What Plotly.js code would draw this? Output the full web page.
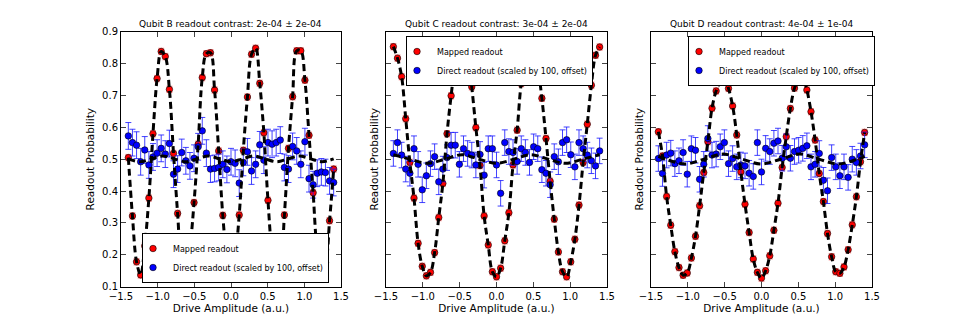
<!DOCTYPE html>
<html>
<head>
<meta charset="utf-8">
<script src="https://cdn.plot.ly/plotly-3.0.1.min.js"></script>
<style>
body { margin: 0; background: #fff; }
#plot { width: 969px; height: 320px; }
</style>
</head>
<body>
<div id="plot"></div>
<script>
// drive amplitudes, shared by the three qubits
let amps = [-1.4, -1.344, -1.288, -1.232, -1.176, -1.12, -1.064, -1.008, -0.952, -0.896,
    -0.84, -0.784, -0.728, -0.672, -0.616, -0.56, -0.504, -0.448, -0.392, -0.336,
    -0.28, -0.224, -0.168, -0.112, -0.056, 0, 0.056, 0.112, 0.168, 0.224,
    0.28, 0.336, 0.392, 0.448, 0.504, 0.56, 0.616, 0.672, 0.728, 0.784,
    0.84, 0.896, 0.952, 1.008, 1.064, 1.12, 1.176, 1.232, 1.288, 1.344, 1.4];

let titles = [
    'Qubit B readout contrast: 2e-04 ± 2e-04',
    'Qubit C readout contrast: 3e-04 ± 2e-04',
    'Qubit D readout contrast: 4e-04 ± 1e-04'
];

// Qubit B
let mappedB = [0.505, 0.322, 0.178, 0.137, 0.228, 0.378, 0.580, 0.753, 0.838, 0.822,
    0.719, 0.518, 0.330, 0.170, 0.138, 0.220, 0.364, 0.547, 0.756, 0.831,
    0.834, 0.717, 0.526, 0.324, 0.190, 0.132, 0.192, 0.325, 0.528, 0.695,
    0.829, 0.848, 0.738, 0.583, 0.371, 0.206, 0.135, 0.160, 0.325, 0.534,
    0.696, 0.840, 0.840, 0.748, 0.575, 0.395, 0.215, 0.158, 0.176, 0.307, 0.469];
let directB = [0.573, 0.552, 0.544, 0.492, 0.529, 0.482, 0.507, 0.519, 0.534, 0.516,
    0.549, 0.453, 0.469, 0.521, 0.495, 0.479, 0.503, 0.539, 0.589, 0.519,
    0.469, 0.471, 0.474, 0.484, 0.468, 0.492, 0.487, 0.425, 0.490, 0.523,
    0.463, 0.484, 0.545, 0.497, 0.552, 0.547, 0.552, 0.560, 0.474, 0.469,
    0.540, 0.526, 0.484, 0.555, 0.439, 0.420, 0.456, 0.460, 0.458, 0.432, 0.427];
let fitAmpB = [-1.4, -1.24, -1.085, -0.93, -0.775, -0.62, -0.465, -0.31, -0.155, 0,
    0.155, 0.31, 0.465, 0.62, 0.775, 0.93, 1.085, 1.24, 1.4];
let fitDirectB = [0.501, 0.492, 0.501, 0.51, 0.501, 0.492, 0.501, 0.51, 0.501, 0.492,
    0.501, 0.51, 0.501, 0.492, 0.501, 0.51, 0.501, 0.492, 0.501];

// Qubit C
let mappedC = [0.853, 0.817, 0.759, 0.627, 0.490, 0.378, 0.236, 0.164, 0.134, 0.145,
    0.207, 0.317, 0.424, 0.580, 0.699, 0.800, 0.850, 0.868, 0.835, 0.727,
    0.599, 0.480, 0.322, 0.231, 0.147, 0.131, 0.158, 0.244, 0.332, 0.482,
    0.591, 0.737, 0.800, 0.855, 0.860, 0.793, 0.691, 0.565, 0.431, 0.312,
    0.209, 0.147, 0.131, 0.178, 0.249, 0.356, 0.490, 0.610, 0.732, 0.826, 0.852];
let directC = [0.518, 0.552, 0.513, 0.469, 0.456, 0.533, 0.484, 0.404, 0.448, 0.486,
    0.508, 0.429, 0.469, 0.505, 0.544, 0.544, 0.484, 0.533, 0.518, 0.513,
    0.482, 0.515, 0.450, 0.533, 0.533, 0.482, 0.393, 0.552, 0.524, 0.521,
    0.493, 0.533, 0.521, 0.490, 0.539, 0.533, 0.467, 0.456, 0.420, 0.508,
    0.492, 0.552, 0.561, 0.514, 0.476, 0.552, 0.533, 0.513, 0.495, 0.479, 0.526];
let fitAmpC = [-1.4, -1.168, -0.935, -0.701, -0.467, -0.234, 0, 0.234, 0.467, 0.701, 0.935, 1.168, 1.4];
let fitDirectC = [0.514, 0.500, 0.487, 0.500, 0.514, 0.500, 0.487, 0.500, 0.514, 0.500, 0.487, 0.500, 0.514];

// Qubit D
let mappedD = [0.586, 0.510, 0.383, 0.293, 0.210, 0.160, 0.136, 0.143, 0.190, 0.258,
    0.354, 0.458, 0.555, 0.660, 0.714, 0.742, 0.758, 0.722, 0.667, 0.576,
    0.460, 0.359, 0.270, 0.187, 0.145, 0.127, 0.150, 0.197, 0.277, 0.362,
    0.474, 0.571, 0.659, 0.723, 0.751, 0.756, 0.717, 0.649, 0.560, 0.455,
    0.367, 0.267, 0.194, 0.147, 0.142, 0.162, 0.216, 0.294, 0.382, 0.492, 0.584];
let directD = [0.502, 0.455, 0.513, 0.519, 0.486, 0.495, 0.521, 0.453, 0.533, 0.528,
    0.437, 0.484, 0.565, 0.513, 0.516, 0.539, 0.552, 0.486, 0.502, 0.476,
    0.482, 0.479, 0.456, 0.446, 0.552, 0.460, 0.534, 0.524, 0.550, 0.557,
    0.503, 0.539, 0.503, 0.524, 0.528, 0.534, 0.542, 0.476, 0.484, 0.518,
    0.434, 0.401, 0.505, 0.476, 0.448, 0.476, 0.443, 0.500, 0.490, 0.510, 0.545];
let fitAmpD = [-1.4, -1.3, -1.04, -0.78, -0.52, -0.26, 0, 0.26, 0.52, 0.78, 1.04, 1.3, 1.4];
let fitDirectD = [0.509, 0.500, 0.485, 0.500, 0.516, 0.500, 0.485, 0.500, 0.516, 0.500, 0.485, 0.500, 0.509];

// error bar half-widths
let mappedErr = 0.01;
let directErr = [0.042, 0.04, 0.04];

let fitLine = {color: 'black', width: 3, dash: '7px,4px'};

function panelTraces(i, mapped, direct, fitAmp, fitDirect) {
    let xa = i === 0 ? 'x' : 'x' + (i + 1);
    let ya = i === 0 ? 'y' : 'y' + (i + 1);
    let lg = i === 0 ? 'legend' : 'legend' + (i + 1);
    return [
        {
            x: amps, y: mapped, xaxis: xa, yaxis: ya, legend: lg,
            name: 'Mapped readout', type: 'scatter', mode: 'markers',
            marker: {color: '#ff0000', size: 6.5, line: {color: 'black', width: 0.6}},
            error_y: {type: 'constant', value: mappedErr, color: 'rgba(255,0,0,0.45)', thickness: 1, width: 3}
        },
        {
            x: amps, y: direct, xaxis: xa, yaxis: ya, legend: lg,
            name: 'Direct readout (scaled by 100, offset)', type: 'scatter', mode: 'markers',
            marker: {color: '#0000ff', size: 6.5, line: {color: 'black', width: 0.6}},
            error_y: {type: 'constant', value: directErr[i], color: 'rgba(20,20,255,0.8)', thickness: 1, width: 3}
        },
        {
            x: amps, y: mapped, xaxis: xa, yaxis: ya, showlegend: false,
            type: 'scatter', mode: 'lines', line: Object.assign({shape: 'spline', smoothing: 1}, fitLine)
        },
        {
            x: fitAmp, y: fitDirect, xaxis: xa, yaxis: ya, showlegend: false,
            type: 'scatter', mode: 'lines', line: Object.assign({shape: 'spline', smoothing: 1}, fitLine)
        }
    ];
}

let data = [].concat(
    panelTraces(0, mappedB, directB, fitAmpB, fitDirectB),
    panelTraces(1, mappedC, directC, fitAmpC, fitDirectC),
    panelTraces(2, mappedD, directD, fitAmpD, fitDirectD)
);

let W = 969, H = 320;
let xDomains = [[121 / W, 341 / W], [386 / W, 607 / W], [651 / W, 872 / W]];
let yDomain = [(H - 286.7) / H, (H - 31.7) / H];

function xAxis(i) {
    return {
        domain: xDomains[i], anchor: i === 0 ? 'y' : 'y' + (i + 1),
        range: [-1.5, 1.5], tick0: -1.5, dtick: 0.5, tickformat: '.1f',
        ticks: 'inside', ticklen: 5, mirror: 'ticks', showline: true,
        linecolor: 'black', linewidth: 1, showgrid: false, zeroline: false,
        tickfont: {size: 10},
        title: {text: 'Drive Amplitude (a.u.)', font: {size: 10.5}, standoff: 3}
    };
}

function yAxis(i) {
    return {
        domain: yDomain, anchor: i === 0 ? 'x' : 'x' + (i + 1),
        range: [0.1, 0.9], tick0: 0.1, dtick: 0.1, tickformat: '.1f',
        ticks: 'inside', ticklen: 5, mirror: 'ticks', showline: true,
        linecolor: 'black', linewidth: 1, showgrid: false, zeroline: false,
        showticklabels: i === 0,
        tickfont: {size: 10},
        title: {text: 'Readout Probability', font: {size: 10.5}, standoff: i === 0 ? 5 : 4}
    };
}

function legendBox(x, y, yanchor) {
    return {
        x: x, y: y, xanchor: 'left', yanchor: yanchor,
        bgcolor: 'white', bordercolor: 'black', borderwidth: 1,
        font: {size: 8}, indentation: -10, tracegroupgap: 0
    };
}

let layout = {
    width: W, height: H,
    margin: {l: 0, r: 0, t: 0, b: 0},
    paper_bgcolor: 'white', plot_bgcolor: 'white',
    font: {family: 'DejaVu Sans', color: 'black'},
    showlegend: true,
    xaxis: xAxis(0), xaxis2: xAxis(1), xaxis3: xAxis(2),
    yaxis: yAxis(0), yaxis2: yAxis(1), yaxis3: yAxis(2),
    legend: legendBox(142 / W, (H - 283) / H, 'bottom'),
    legend2: legendBox(406 / W, (H - 36) / H, 'top'),
    legend3: legendBox(688 / W, (H - 36) / H, 'top'),
    annotations: titles.map((t, i) => ({
        text: t, xref: 'paper', yref: 'paper',
        x: (xDomains[i][0] + xDomains[i][1]) / 2, y: (H - 24) / H,
        xanchor: 'center', yanchor: 'middle', showarrow: false,
        font: {size: 9}
    }))
};

Plotly.newPlot('plot', data, layout, {displayModeBar: false});
</script>
</body>
</html>
